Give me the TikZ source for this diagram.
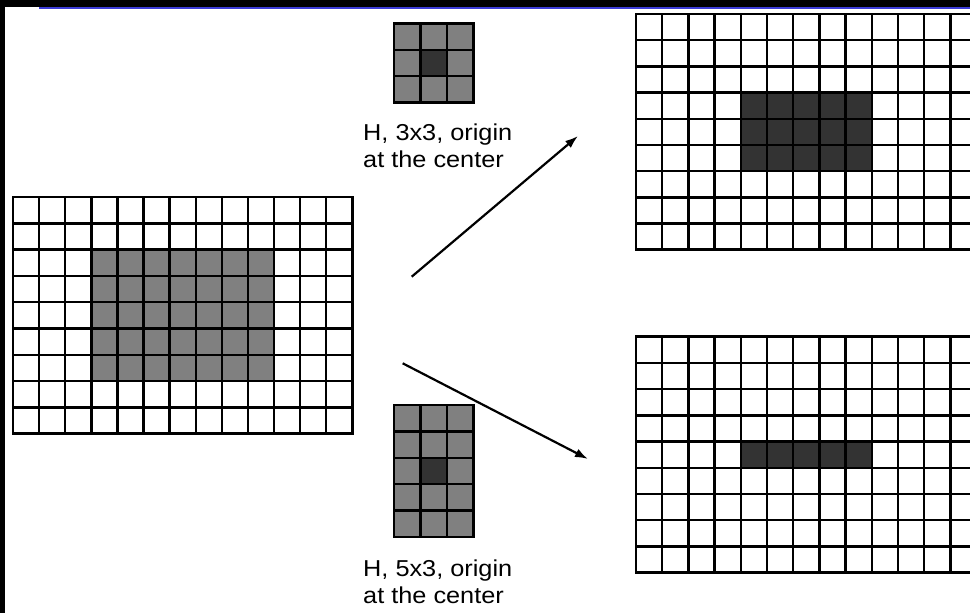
\documentclass[tikz,border=0pt]{standalone}
\usepackage{fontspec}
\setmainfont{Liberation Sans}
\usetikzlibrary{arrows.meta}
\definecolor{cellgray}{HTML}{808080}
\definecolor{celldark}{HTML}{333333}
\definecolor{bandblue}{RGB}{60,60,215}
\newcommand{\pixgridlines}[6]{% x0 y0 w h ncols nrows
  \foreach \i in {0,...,#5} \draw[gridline] (#1+\i*#3,#2) -- (#1+\i*#3,#2+#6*#4);
  \foreach \j in {0,...,#6} \draw[gridline] (#1,#2+\j*#4) -- (#1+#5*#3,#2+\j*#4);
  \draw[gridborder] (#1,#2) rectangle ++(#5*#3,#6*#4);
}
\tikzset{
  gridline/.style={line width=2.4pt,black},
  gridborder/.style={line width=2.8pt,black,line join=miter},
  caption/.style={inner sep=0pt,anchor=base west,font=\fontsize{23}{27}\selectfont},
  flow/.style={line width=2.2pt,-{Latex[length=13pt,width=9pt]}}
}
\begin{document}
\begin{tikzpicture}[x=1pt,y=-1pt]
\useasboundingbox (0,0) rectangle (970,613);
\clip (0,0) rectangle (970,613);
\fill[white] (0,0) rectangle (970,613);
% frame bands
\fill[black] (0,0) rectangle (970,6.7);
\fill[black] (0,0) rectangle (5,613);
\fill[bandblue] (39,6.7) rectangle (970,8.7);

% input image
\fill[white] (13,197) rectangle ++(13*26.1,9*26.3);
\fill[cellgray] (13+3*26.1,197+2*26.3) rectangle ++(7*26.1,5*26.3);
\pixgridlines{13}{197}{26.1}{26.3}{13}{9}

% kernel 3x3
\fill[cellgray] (394,23.3) rectangle ++(3*26.4,3*26.4);
\fill[celldark] (394+26.4,23.3+26.4) rectangle ++(26.4,26.4);
\pixgridlines{394}{23.3}{26.4}{26.4}{3}{3}
\node[caption] (capA1) at (363,140) {\scalebox{1.1}[1]{H, 3x3, origin}};
\node[caption] (capA2) at (363,167) {\scalebox{1.1}[1]{at the center}};

% kernel 5x3
\fill[cellgray] (394,405) rectangle ++(3*26.4,5*26.4);
\fill[celldark] (394+26.4,405+2*26.4) rectangle ++(26.4,26.4);
\pixgridlines{394}{405}{26.4}{26.4}{3}{5}
\node[caption] (capB1) at (363,576) {\scalebox{1.1}[1]{H, 5x3, origin}};
\node[caption] (capB2) at (363,603) {\scalebox{1.1}[1]{at the center}};

% result of 3x3 erosion
\fill[white] (636,14) rectangle ++(13*26.2,9*26.2);
\fill[celldark] (636+4*26.2,14+3*26.2) rectangle ++(5*26.2,3*26.2);
\pixgridlines{636}{14}{26.2}{26.2}{13}{9}

% result of 5x3 erosion
\fill[white] (636,336.7) rectangle ++(13*26.2,9*26.2);
\fill[celldark] (636+4*26.2,336.7+4*26.2) rectangle ++(5*26.2,26.2);
\pixgridlines{636}{336.7}{26.2}{26.2}{13}{9}

% arrows
\coordinate (upS) at (411.7,276.7);
\coordinate (upE) at (578,136);
\coordinate (dnS) at (402.7,363.3);
\coordinate (dnE) at (588,459);
\draw[flow] (upS) -- (upE);
\draw[flow] (dnS) -- (dnE);
\end{tikzpicture}
\end{document}
